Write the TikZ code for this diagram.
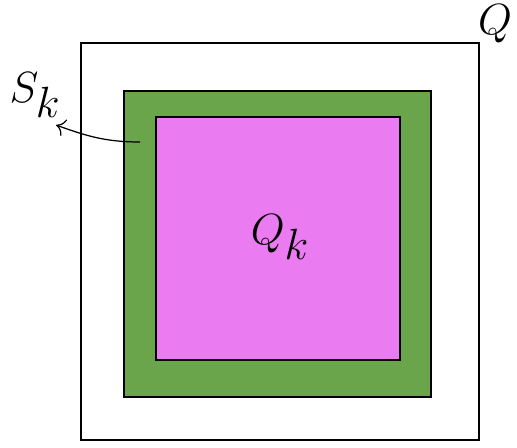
\documentclass[tikz,border=0pt]{standalone}
\usepackage{tikz}
\usetikzlibrary{arrows.meta}
\definecolor{sgreen}{RGB}{106,164,75}
\definecolor{qpink}{RGB}{234,123,240}
\begin{document}
\begin{tikzpicture}[x=0.02cm,y=-0.02cm,
  lbl/.style={inner sep=0pt,font=\fontsize{33}{38}\selectfont},
  sq/.style={draw=black,line width=0.8pt}]
\useasboundingbox (0,0) rectangle (517,448);
\draw[sq] (81,43) rectangle (479,440);
\draw[sq,fill=sgreen] (124,91) rectangle (431,397);
\draw[sq,fill=qpink] (156,117) rectangle (400,360);
\node[lbl] (Q) at (495,24) {$Q$};
\node[lbl] (Qk) at (280,237) {$Q_k$};
\node[lbl] (Sk) at (35,95) {$S_k$};
\coordinate (s) at (140,142);
\coordinate (e) at (56,125);
\draw[-{To[length=5pt,width=10pt]},line width=0.7pt] (s) to[out=180,in=-20] (e);
\end{tikzpicture}
\end{document}
